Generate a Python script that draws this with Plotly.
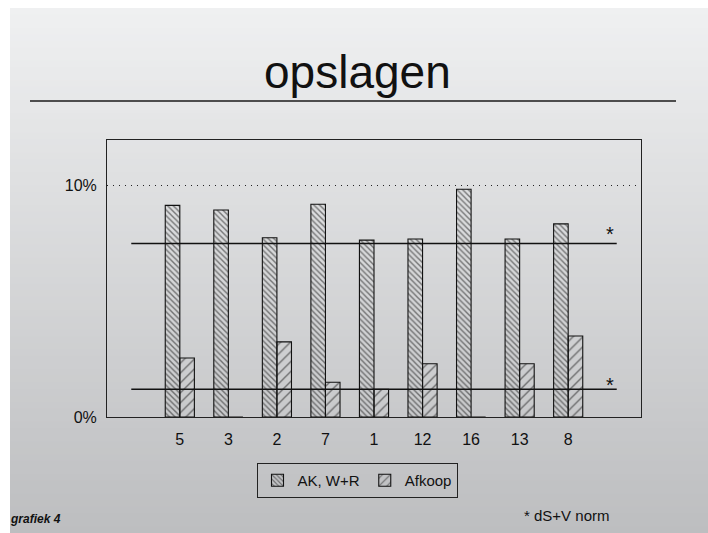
import plotly.graph_objects as go

# Data
categories = ["5", "3", "2", "7", "1", "12", "16", "13", "8"]
ak_wr = [9.15, 8.95, 7.75, 9.2, 7.65, 7.7, 9.85, 7.7, 8.35]
afkoop = [2.55, 0.0, 3.25, 1.5, 1.2, 2.3, 0.0, 2.3, 3.5]
norm_levels = [7.5, 1.2]
y_ticks = [0, 10]
y_ticktext = ["0%", "10%"]

W, H = 708, 533
FONT = "Liberation Sans, Arial, Helvetica, sans-serif"
INK = "#111111"

positions = list(range(len(categories)))


def px_x(p):
    return p / W


def px_y(p):
    return 1 - p / H


fig = go.Figure()

fig.add_trace(go.Bar(
    x=positions, y=ak_wr, name="AK, W+R",
    marker=dict(
        color="rgba(0,0,0,0)",
        line=dict(color="#111111", width=1.1),
        pattern=dict(shape="\\", size=4, solidity=0.35,
                     fgcolor="#111111", bgcolor="rgba(0,0,0,0)",
                     fillmode="overlay"),
    ),
))
fig.add_trace(go.Bar(
    x=positions, y=afkoop, name="Afkoop",
    marker=dict(
        color="rgba(0,0,0,0)",
        line=dict(color="#111111", width=1.1),
        pattern=dict(shape="/", size=7, solidity=0.2,
                     fgcolor="#111111", bgcolor="rgba(0,0,0,0)",
                     fillmode="overlay"),
    ),
))

# Norm lines (dS+V), spanning the category range
for lvl in norm_levels:
    fig.add_trace(go.Scatter(
        x=[positions[0] - 1, positions[-1] + 1], y=[lvl, lvl], mode="lines",
        line=dict(color="#111111", width=1.4),
        showlegend=False, hoverinfo="skip",
    ))

# Vertical gradient background made from thin bands
shapes = []
n_bands = 80
top_px, bot_px = 8, H
c_top = (239, 240, 241)
c_bot = (189, 190, 192)
for i in range(n_bands):
    t = i / (n_bands - 1)
    c = tuple(round(a + (b - a) * t) for a, b in zip(c_top, c_bot))
    y0 = top_px + (bot_px - top_px) * i / n_bands
    y1 = top_px + (bot_px - top_px) * (i + 1) / n_bands + 1
    shapes.append(dict(
        type="rect", xref="paper", yref="paper", layer="below",
        x0=px_x(10), x1=1.0, y0=px_y(min(y1, H)), y1=px_y(y0),
        fillcolor="rgb(%d,%d,%d)" % c, line=dict(width=0),
    ))

# Rule under the title
shapes.append(dict(
    type="line", xref="paper", yref="paper",
    x0=px_x(30), x1=px_x(676), y0=px_y(101), y1=px_y(101),
    line=dict(color="#1a1a1a", width=1.3),
))

annotations = [
    dict(text="opslagen", xref="paper", yref="paper",
         x=px_x(357), y=px_y(72), xanchor="center", yanchor="middle",
         showarrow=False, font=dict(family=FONT, size=46, color=INK)),
    dict(text="*", xref="paper", yref="paper",
         x=px_x(610), y=px_y(234), xanchor="center", yanchor="middle",
         showarrow=False, font=dict(family=FONT, size=20, color=INK)),
    dict(text="*", xref="paper", yref="paper",
         x=px_x(610), y=px_y(385), xanchor="center", yanchor="middle",
         showarrow=False, font=dict(family=FONT, size=20, color=INK)),
    dict(text="<b><i>grafiek 4</i></b>", xref="paper", yref="paper",
         x=px_x(8), y=px_y(519), xanchor="left", yanchor="middle",
         showarrow=False, font=dict(family=FONT, size=12, color=INK)),
    dict(text="* dS+V norm", xref="paper", yref="paper",
         x=px_x(522), y=px_y(515), xanchor="left", yanchor="middle",
         showarrow=False, font=dict(family=FONT, size=15, color=INK)),
]

fig.update_layout(
    width=W, height=H, autosize=False,
    margin=dict(l=0, r=0, t=0, b=0, pad=0, autoexpand=False),
    paper_bgcolor="white",
    plot_bgcolor="rgba(0,0,0,0)",
    barmode="group", bargap=0.4, bargroupgap=0,
    font=dict(family=FONT, color=INK),
    shapes=shapes,
    annotations=annotations,
    showlegend=True,
    legend=dict(
        orientation="h", x=px_x(357), y=px_y(463),
        xanchor="center", yanchor="top",
        bgcolor="rgba(0,0,0,0)", bordercolor="#222222", borderwidth=1,
        font=dict(family=FONT, size=15, color=INK),
        itemwidth=30, tracegroupgap=0,
    ),
    xaxis=dict(
        domain=[px_x(107), px_x(641)],
        range=[-1.5, 9.5],
        tickvals=positions, ticktext=categories,
        showline=True, linecolor="#222222", linewidth=1, mirror=True,
        showgrid=False, zeroline=False, ticks="",
        ticklabelstandoff=8, automargin=False,
        tickfont=dict(family=FONT, size=16, color=INK),
    ),
    yaxis=dict(
        domain=[px_y(417), px_y(139.5)],
        range=[0, 12],
        tickvals=y_ticks, ticktext=y_ticktext,
        showline=True, linecolor="#222222", linewidth=1, mirror=True,
        showgrid=True, gridcolor="#222222", gridwidth=1.2, griddash="1px,5px",
        zeroline=False, ticks="",
        ticklabelstandoff=6, automargin=False,
        tickfont=dict(family=FONT, size=16, color=INK),
    ),
)

fig.write_html("out.html")
